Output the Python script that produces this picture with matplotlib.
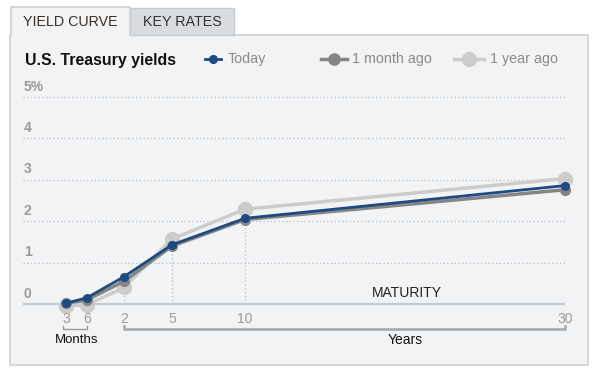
#!/usr/bin/env python3
"""U.S. Treasury yield curve widget: today vs 1 month ago vs 1 year ago."""

import numpy as np
import matplotlib
matplotlib.use("Agg")
import matplotlib.pyplot as plt
from matplotlib.patches import Rectangle
from matplotlib.lines import Line2D
from matplotlib.transforms import blended_transform_factory

plt.rcParams["font.family"] = ["Liberation Sans", "DejaVu Sans"]

# ── Data ──────────────────────────────────────────────────────────────────────
maturity_years = [0.25, 0.5, 2, 5, 10, 30]
tick_labels = ["3", "6", "2", "5", "10", "30"]
yield_today = [0.02, 0.15, 0.66, 1.43, 2.07, 2.86]
yield_month_ago = [0.02, 0.10, 0.55, 1.40, 2.04, 2.76]
yield_year_ago = [-0.04, -0.02, 0.40, 1.57, 2.29, 3.03]
y_ticks = [0, 1, 2, 3, 4, 5]
y_tick_labels = ["0", "1", "2", "3", "4", "5%"]

# piecewise maturity axis: months are stretched out, years roughly linear
scale_mat = [0, 0.25, 0.5, 2, 5, 10, 30]
scale_pos = [0, 43, 64, 101, 149, 222, 542]


def fwd(x):
    return np.interp(x, scale_mat, scale_pos)


def inv(p):
    return np.interp(p, scale_pos, scale_mat)


W, H = 600, 378
PANEL = "#f1f3f5"
GRID = "#b9bdc1"
TICK = "#9a9a9a"


def fx(px):
    return px / W


def fy(py):
    return 1 - py / H


fig = plt.figure(figsize=(W / 100, H / 100), dpi=100)
fig.patch.set_facecolor("white")

# ── Frame: panel + tabs ───────────────────────────────────────────────────────
fig.add_artist(Rectangle((fx(10), fy(365)), fx(588) - fx(10), fy(35) - fy(365),
                         transform=fig.transFigure, fc=PANEL, ec="#cfd2d5", lw=1.2,
                         zorder=-2))
fig.add_artist(Rectangle((fx(130), fy(35)), fx(234) - fx(130), fy(8) - fy(35),
                         transform=fig.transFigure, fc="#d9dcdf", ec="#c8cbce", lw=1.0,
                         zorder=-2))
fig.add_artist(Rectangle((fx(11), fy(36)), fx(130) - fx(11), fy(7) - fy(36),
                         transform=fig.transFigure, fc=PANEL, ec="none", zorder=-1))
fig.add_artist(Line2D([fx(11), fx(11), fx(130), fx(130)], [fy(36), fy(7), fy(7), fy(35)],
                      transform=fig.transFigure, color="#cfd2d5", lw=1.2, zorder=-1))
fig.text(fx(70), fy(22), "YIELD CURVE", fontsize=10.3, color="#3a2f25",
         ha="center", va="center")
fig.text(fx(182), fy(22), "KEY RATES", fontsize=10.3, color="#333333",
         ha="center", va="center")

fig.text(fx(25), fy(60), "U.S. Treasury yields", fontsize=11.4, fontweight="bold",
         color="#111111", ha="left", va="center")

# legend, drawn by hand
legend = [
    ("Today", "#1d4a80", 5.5, 2.0, 205, 221, 228),
    ("1 month ago", "#858585", 8, 2.5, 321, 347, 352),
    ("1 year ago", "#cccccc", 10, 2.5, 454, 484, 490),
]
for label, col, ms, lw, x0, x1, xt in legend:
    fig.add_artist(Line2D([fx(x0), fx(x1)], [fy(59), fy(59)], transform=fig.transFigure,
                          color=col, lw=lw))
    fig.add_artist(Line2D([fx((x0 + x1) / 2)], [fy(59)], transform=fig.transFigure,
                          color=col, marker="o", ms=ms, lw=0))
    fig.text(fx(xt), fy(59), label, fontsize=10.3, color="#8a8a8a", ha="left", va="center")

# ── Plot area ─────────────────────────────────────────────────────────────────
unit = 41.4          # pixels per percentage point
y_lo, y_hi = -0.5, 5.3
bottom_px = 304 - y_lo * unit
top_px = 304 - y_hi * unit
ax = fig.add_axes([fx(23), fy(bottom_px), fx(565) - fx(23), fy(top_px) - fy(bottom_px)])
ax.set_zorder(5)
ax.set_facecolor("none")
ax.set_xscale("function", functions=(fwd, inv))
ax.set_xlim(0, 30)
ax.set_ylim(y_lo, y_hi)
ax.set_axis_off()

ax.hlines(y_ticks[1:], 0, 30.05, colors=GRID, linestyles=(0, (1, 2)), lw=0.9)
ax.hlines(0, 0, 30.05, colors="#c6cbd0", lw=1.6)

# dotted drop lines from each year maturity up to the curve
for m, a, b, c in zip(maturity_years, yield_today, yield_month_ago, yield_year_ago):
    if m >= 2:
        ax.vlines(m, 0, max(a, b, c), colors=GRID, linestyles=(0, (1, 2)), lw=0.9)

ax.plot(maturity_years, yield_year_ago, color="#cccccc", lw=2.5, marker="o", ms=10,
        clip_on=False, zorder=3)
ax.plot(maturity_years, yield_month_ago, color="#858585", lw=2.5, marker="o", ms=7,
        clip_on=False, zorder=4)
ax.plot(maturity_years, yield_today, color="#1d4a80", lw=2.0, marker="o", ms=5.5,
        clip_on=False, zorder=5)

# y tick labels sit just above their gridlines
ytr = blended_transform_factory(fig.transFigure, ax.transData)
for v, lab in zip(y_ticks, y_tick_labels):
    ax.text(fx(24), v + 0.25, lab, transform=ytr, fontsize=10, color=TICK,
            fontweight="bold", ha="left", va="center")

# x tick labels and the Months / Years brackets
for m, lab in zip(maturity_years, tick_labels):
    ax.text(m, -0.36, lab, fontsize=10, color=TICK, ha="center", va="center")

yb = -0.60
ax.plot([0.23, 0.23, 0.52, 0.52], [yb + 0.07, yb, yb, yb + 0.07], color="#9a9a9a",
        lw=1.0, clip_on=False)
ax.plot([2, 2, 30, 30], [yb + 0.07, yb, yb, yb + 0.07], color="#a5a8ab",
        lw=1.8, clip_on=False)
ax.text(0.375, -0.87, "Months", fontsize=9.5, color="#111111", ha="center", va="center")
ax.text(inv(382), -0.87, "Years", fontsize=10, color="#111111", ha="center", va="center")
ax.text(inv(384), 0.27, "MATURITY", fontsize=10, color="#222222", ha="center", va="center")

fig.savefig("out.png", dpi=100)
plt.close(fig)
